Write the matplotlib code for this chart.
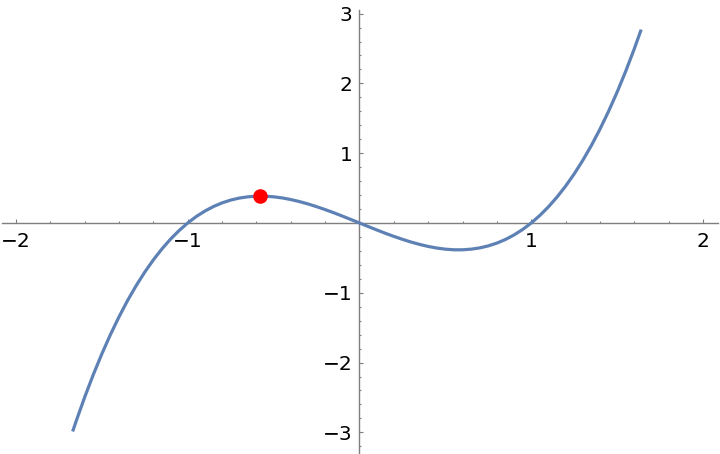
import numpy as np
import matplotlib
matplotlib.use('Agg')
import matplotlib.pyplot as plt
from matplotlib.ticker import MultipleLocator, FuncFormatter

# curve samples
x_vals = [-1.67, -1.65, -1.6, -1.55, -1.5, -1.45, -1.4, -1.35, -1.3, -1.25,
          -1.2, -1.15, -1.1, -1.05, -1.0, -0.95, -0.9, -0.85, -0.8, -0.75,
          -0.7, -0.65, -0.6, -0.55, -0.5, -0.45, -0.4, -0.35, -0.3, -0.25,
          -0.2, -0.15, -0.1, -0.05, 0.0, 0.05, 0.1, 0.15, 0.2, 0.25,
          0.3, 0.35, 0.4, 0.45, 0.5, 0.55, 0.6, 0.65, 0.7, 0.75,
          0.8, 0.85, 0.9, 0.95, 1.0, 1.05, 1.1, 1.15, 1.2, 1.25,
          1.3, 1.35, 1.4, 1.45, 1.5, 1.55, 1.6, 1.64]
y_vals = [-2.987, -2.842, -2.496, -2.174, -1.875, -1.599, -1.344, -1.110, -0.897, -0.703,
          -0.528, -0.371, -0.231, -0.108, 0.0, 0.093, 0.171, 0.236, 0.288, 0.328,
          0.357, 0.375, 0.384, 0.384, 0.375, 0.359, 0.336, 0.307, 0.273, 0.234,
          0.192, 0.147, 0.099, 0.050, 0.0, -0.050, -0.099, -0.147, -0.192, -0.234,
          -0.273, -0.307, -0.336, -0.359, -0.375, -0.384, -0.384, -0.375, -0.357, -0.328,
          -0.288, -0.236, -0.171, -0.093, 0.0, 0.108, 0.231, 0.371, 0.528, 0.703,
          0.897, 1.110, 1.344, 1.599, 1.875, 2.174, 2.496, 2.771]
point_x = [-0.577]
point_y = [0.385]

x_ticks = [-2, -1, 1, 2]
y_ticks = [-3, -2, -1, 1, 2, 3]

axis_grey = '#7f7f7f'

fig = plt.figure(figsize=(7.2, 4.54), dpi=100)
ax = fig.add_axes([0, 0, 1, 1])

ax.plot(x_vals, y_vals, color='#5e81b5', lw=2.3, solid_capstyle='butt',
        solid_joinstyle='round', zorder=3)
ax.plot(point_x, point_y, 'o', color='red', ms=9.5, zorder=4)

ax.set_xlim(-2.093, 2.099)
ax.set_ylim(-3.31, 3.195)

ax.spines['top'].set_visible(False)
ax.spines['right'].set_visible(False)
ax.spines['left'].set_position(('data', 0))
ax.spines['bottom'].set_position(('data', 0))
ax.spines['bottom'].set_bounds(-2.08, 2.087)
ax.spines['left'].set_bounds(-3.29, 3.05)
for s in ('left', 'bottom'):
    ax.spines[s].set_color(axis_grey)
    ax.spines[s].set_linewidth(1.0)

ax.set_xticks(x_ticks)
ax.set_yticks(y_ticks)
ax.xaxis.set_minor_locator(MultipleLocator(0.2))
ax.yaxis.set_minor_locator(MultipleLocator(0.2))
fmt = FuncFormatter(lambda v, p: ('\u2212%d' % abs(v)) if v < 0 else '%d' % v)
ax.xaxis.set_major_formatter(fmt)
ax.yaxis.set_major_formatter(fmt)

ax.tick_params(which='both', direction='in', color=axis_grey, width=0.8,
               labelsize=14.5, labelcolor='black')
ax.tick_params(which='major', length=3.0)
ax.tick_params(which='minor', length=1.7)
ax.tick_params(axis='x', which='major', pad=6.5)
ax.tick_params(axis='y', which='major', pad=5)

plt.savefig('out.png', dpi=100)
